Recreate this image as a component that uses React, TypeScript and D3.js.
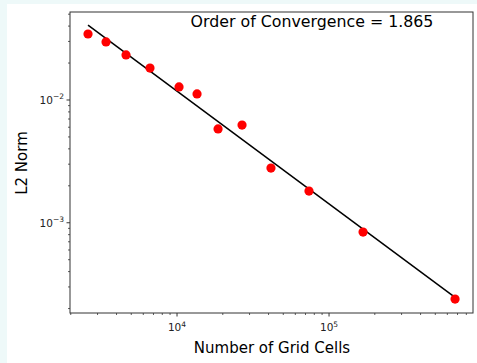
import React from "react";
import * as d3 from "d3";

const gridCells = [2597, 3411, 4618, 6641, 10310, 13540, 18620, 26770, 41500, 73800, 167400, 674500];
const l2Norm = [0.0345, 0.0297, 0.0233, 0.0182, 0.01277, 0.0112, 0.00581, 0.00625, 0.00279, 0.00181, 0.00084, 0.000239];
const orderOfConvergence = 1.865;
const xMajorTicks = [1e4, 1e5];
const yMajorTicks = [1e-3, 1e-2];
const xLabel = "Number of Grid Cells";
const yLabel = "L2 Norm";

const W = 477, H = 363;
const left = 70, right = 473, top = 12, bottom = 313;

export default function App() {
  const x = d3.scaleLog().domain([1977, 885000]).range([left, right]);
  const y = d3.scaleLog().domain([1.84e-4, 0.0521]).range([bottom, top]);

  const lx = gridCells.map(Math.log10);
  const ly = l2Norm.map(Math.log10);
  const mx = d3.mean(lx)!, my = d3.mean(ly)!;
  let sxy = 0, sxx = 0;
  lx.forEach((v, i) => { sxy += (v - mx) * (ly[i] - my); sxx += (v - mx) * (v - mx); });
  const slope = sxy / sxx;
  const icpt = my - slope * mx;
  const fitX = [gridCells[0], gridCells[gridCells.length - 1]];
  const fitY = fitX.map((v) => Math.pow(10, icpt + slope * Math.log10(v)));
  const line = d3.line<number>().x((d) => x(d)).y((_, i) => y(fitY[i]));

  const xMinor: number[] = [];
  for (let e = 3; e <= 5; e++) for (let m = 2; m <= 9; m++) {
    const v = m * Math.pow(10, e);
    if (v >= 1977 && v <= 885000) xMinor.push(v);
  }
  const yMinor: number[] = [];
  for (let e = -4; e <= -2; e++) for (let m = 2; m <= 9; m++) {
    const v = m * Math.pow(10, e);
    if (v >= 1.84e-4 && v <= 0.0521) yMinor.push(v);
  }
  const axisColor = "#333";
  const font = "DejaVu Sans, sans-serif";

  return (
    <svg width={W} height={H} style={{ position: "absolute", left: 0, top: 0 }} fontFamily={font}>
      <rect x={0} y={0} width={W} height={H} fill="#eef9f9" />
      <rect x={7} y={4} width={W - 7} height={H - 4} fill="#ffffff" />
      <path d={line(fitX) || ""} stroke="#000" strokeWidth={1.5} fill="none" />
      {gridCells.map((g, i) => (
        <circle key={i} cx={x(g)} cy={y(l2Norm[i])} r={4.6} fill="#ff0000" />
      ))}
      <rect x={left} y={top} width={right - left} height={bottom - top} fill="none" stroke={axisColor} strokeWidth={1} />
      {xMajorTicks.map((t) => (
        <g key={t}>
          <line x1={x(t)} x2={x(t)} y1={bottom} y2={bottom + 3.5} stroke={axisColor} />
          <text x={x(t)} y={bottom + 18} fontSize={10.5} textAnchor="middle" fill="#222">
            10<tspan dy={-4.5} fontSize={7.5}>{Math.round(Math.log10(t))}</tspan>
          </text>
        </g>
      ))}
      {xMinor.map((t) => (
        <line key={t} x1={x(t)} x2={x(t)} y1={bottom} y2={bottom + 2} stroke={axisColor} strokeWidth={0.8} />
      ))}
      {yMajorTicks.map((t) => (
        <g key={t}>
          <line x1={left} x2={left - 3.5} y1={y(t)} y2={y(t)} stroke={axisColor} />
          <text x={left - 6} y={y(t) + 4} fontSize={10.5} textAnchor="end" fill="#222">
            10<tspan dy={-4.5} fontSize={7.5}>{"\u2212" + Math.abs(Math.round(Math.log10(t)))}</tspan>
          </text>
        </g>
      ))}
      {yMinor.map((t) => (
        <line key={t} x1={left} x2={left - 2} y1={y(t)} y2={y(t)} stroke={axisColor} strokeWidth={0.8} />
      ))}
      <text x={312} y={27} fontSize={15.8} textAnchor="middle" fill="#000">
        {`Order of Convergence = ${orderOfConvergence}`}
      </text>
      <text x={272} y={353} fontSize={15} textAnchor="middle" fill="#000">{xLabel}</text>
      <text transform={`translate(27,163) rotate(-90)`} fontSize={15} textAnchor="middle" fill="#000">{yLabel}</text>
    </svg>
  );
}
